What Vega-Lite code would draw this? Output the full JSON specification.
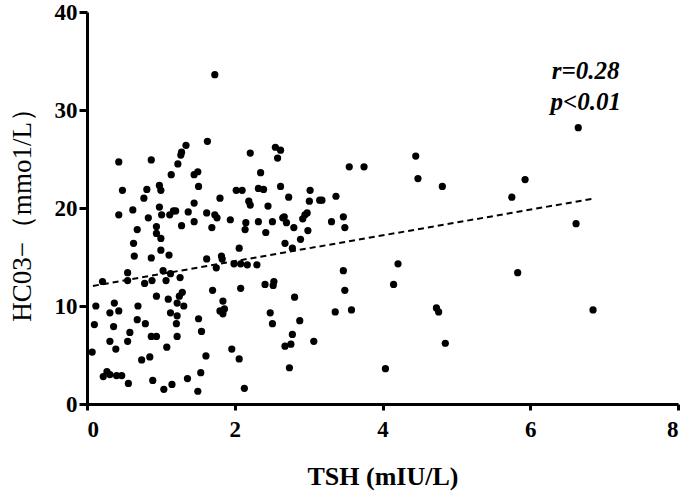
{
  "$schema": "https://vega.github.io/schema/vega-lite/v6.json",
  "autosize": "none",
  "width": 591,
  "height": 392,
  "padding": {"left": 87, "top": 12, "right": 7, "bottom": 94},
  "background": "white",
  "config": {
    "view": {"stroke": null},
    "axis": {
      "grid": false,
      "domainColor": "black",
      "domainWidth": 3,
      "tickColor": "black",
      "tickWidth": 3,
      "labelFont": "Liberation Serif",
      "labelFontWeight": "bold",
      "labelFontSize": 23,
      "labelColor": "black",
      "titleFont": "Liberation Serif",
      "titleColor": "#000000"
    }
  },
  "datasets": {
    "pts": [
      {"tsh":0.07,"hco3":5.3},{"tsh":0.1,"hco3":8.1},{"tsh":0.12,"hco3":10.0},{"tsh":0.21,"hco3":12.5},{"tsh":0.22,"hco3":2.8},{"tsh":0.27,"hco3":3.3},{"tsh":0.31,"hco3":6.4},{"tsh":0.31,"hco3":3.0},{"tsh":0.31,"hco3":9.3},{"tsh":0.36,"hco3":7.9},{"tsh":0.37,"hco3":10.3},{"tsh":0.39,"hco3":5.6},{"tsh":0.4,"hco3":2.9},{"tsh":0.43,"hco3":9.5},{"tsh":0.43,"hco3":24.7},{"tsh":0.43,"hco3":19.3},{"tsh":0.47,"hco3":2.9},{"tsh":0.48,"hco3":21.8},{"tsh":0.55,"hco3":13.4},{"tsh":0.56,"hco3":2.1},{"tsh":0.55,"hco3":6.4},{"tsh":0.58,"hco3":7.3},{"tsh":0.55,"hco3":12.6},{"tsh":0.62,"hco3":19.8},{"tsh":0.63,"hco3":16.4},{"tsh":0.64,"hco3":15.1},{"tsh":0.68,"hco3":8.6},{"tsh":0.68,"hco3":17.8},{"tsh":0.69,"hco3":10.0},{"tsh":0.74,"hco3":4.5},{"tsh":0.77,"hco3":21.0},{"tsh":0.78,"hco3":12.3},{"tsh":0.79,"hco3":8.2},{"tsh":0.81,"hco3":21.9},{"tsh":0.83,"hco3":19.0},{"tsh":0.85,"hco3":4.8},{"tsh":0.87,"hco3":24.9},{"tsh":0.87,"hco3":6.9},{"tsh":0.87,"hco3":14.9},{"tsh":0.88,"hco3":12.6},{"tsh":0.89,"hco3":2.4},{"tsh":0.94,"hco3":11.0},{"tsh":0.94,"hco3":6.9},{"tsh":0.94,"hco3":18.1},{"tsh":0.94,"hco3":17.4},{"tsh":0.98,"hco3":22.3},{"tsh":0.98,"hco3":20.1},{"tsh":1.0,"hco3":21.8},{"tsh":1.0,"hco3":16.9},{"tsh":1.0,"hco3":15.7},{"tsh":1.01,"hco3":19.3},{"tsh":1.03,"hco3":13.6},{"tsh":1.04,"hco3":1.5},{"tsh":1.07,"hco3":12.6},{"tsh":1.08,"hco3":5.8},{"tsh":1.1,"hco3":10.7},{"tsh":1.11,"hco3":15.2},{"tsh":1.13,"hco3":13.3},{"tsh":1.13,"hco3":9.3},{"tsh":1.14,"hco3":23.4},{"tsh":1.15,"hco3":2.0},{"tsh":1.12,"hco3":19.3},{"tsh":1.17,"hco3":19.7},{"tsh":1.2,"hco3":19.7},{"tsh":1.21,"hco3":8.2},{"tsh":1.22,"hco3":9.0},{"tsh":1.22,"hco3":6.9},{"tsh":1.22,"hco3":10.3},{"tsh":1.23,"hco3":24.5},{"tsh":1.25,"hco3":11.0},{"tsh":1.26,"hco3":12.9},{"tsh":1.27,"hco3":25.4},{"tsh":1.28,"hco3":18.2},{"tsh":1.28,"hco3":25.7},{"tsh":1.29,"hco3":11.4},{"tsh":1.31,"hco3":10.0},{"tsh":1.34,"hco3":26.4},{"tsh":1.36,"hco3":2.6},{"tsh":1.37,"hco3":19.6},{"tsh":1.45,"hco3":18.6},{"tsh":1.45,"hco3":20.5},{"tsh":1.45,"hco3":23.4},{"tsh":1.5,"hco3":23.7},{"tsh":1.51,"hco3":22.2},{"tsh":1.51,"hco3":8.7},{"tsh":1.5,"hco3":1.3},{"tsh":1.54,"hco3":3.2},{"tsh":1.55,"hco3":7.4},{"tsh":1.61,"hco3":4.9},{"tsh":1.62,"hco3":14.8},{"tsh":1.62,"hco3":19.5},{"tsh":1.63,"hco3":26.8},{"tsh":1.69,"hco3":18.0},{"tsh":1.7,"hco3":11.6},{"tsh":1.73,"hco3":33.6},{"tsh":1.73,"hco3":19.3},{"tsh":1.75,"hco3":13.9},{"tsh":1.76,"hco3":19.0},{"tsh":1.8,"hco3":21.0},{"tsh":1.8,"hco3":9.5},{"tsh":1.82,"hco3":15.1},{"tsh":1.84,"hco3":10.5},{"tsh":1.84,"hco3":9.2},{"tsh":1.86,"hco3":9.7},{"tsh":1.83,"hco3":14.8},{"tsh":1.94,"hco3":18.8},{"tsh":1.96,"hco3":5.6},{"tsh":1.99,"hco3":14.3},{"tsh":2.02,"hco3":21.8},{"tsh":2.06,"hco3":15.9},{"tsh":2.06,"hco3":4.6},{"tsh":2.08,"hco3":11.8},{"tsh":2.08,"hco3":14.3},{"tsh":2.1,"hco3":21.8},{"tsh":2.13,"hco3":1.6},{"tsh":2.14,"hco3":17.8},{"tsh":2.15,"hco3":18.5},{"tsh":2.17,"hco3":14.2},{"tsh":2.19,"hco3":20.7},{"tsh":2.21,"hco3":20.3},{"tsh":2.21,"hco3":25.6},{"tsh":2.3,"hco3":14.2},{"tsh":2.32,"hco3":18.6},{"tsh":2.32,"hco3":22.0},{"tsh":2.35,"hco3":23.6},{"tsh":2.39,"hco3":21.9},{"tsh":2.41,"hco3":12.2},{"tsh":2.42,"hco3":17.5},{"tsh":2.45,"hco3":20.2},{"tsh":2.48,"hco3":9.3},{"tsh":2.51,"hco3":8.2},{"tsh":2.51,"hco3":18.6},{"tsh":2.52,"hco3":12.1},{"tsh":2.53,"hco3":12.5},{"tsh":2.55,"hco3":26.2},{"tsh":2.58,"hco3":25.1},{"tsh":2.62,"hco3":25.9},{"tsh":2.62,"hco3":22.2},{"tsh":2.65,"hco3":19.0},{"tsh":2.67,"hco3":19.1},{"tsh":2.68,"hco3":16.4},{"tsh":2.68,"hco3":5.9},{"tsh":2.7,"hco3":18.5},{"tsh":2.73,"hco3":21.1},{"tsh":2.74,"hco3":3.7},{"tsh":2.76,"hco3":6.1},{"tsh":2.78,"hco3":7.1},{"tsh":2.78,"hco3":15.9},{"tsh":2.8,"hco3":18.0},{"tsh":2.81,"hco3":10.9},{"tsh":2.88,"hco3":8.5},{"tsh":2.89,"hco3":16.8},{"tsh":2.92,"hco3":18.9},{"tsh":2.95,"hco3":19.3},{"tsh":2.98,"hco3":19.5},{"tsh":2.99,"hco3":17.7},{"tsh":3.01,"hco3":20.7},{"tsh":3.02,"hco3":21.8},{"tsh":3.07,"hco3":6.4},{"tsh":3.15,"hco3":20.8},{"tsh":3.18,"hco3":20.8},{"tsh":3.31,"hco3":18.6},{"tsh":3.36,"hco3":9.4},{"tsh":3.37,"hco3":21.2},{"tsh":3.47,"hco3":13.6},{"tsh":3.47,"hco3":19.1},{"tsh":3.49,"hco3":18.0},{"tsh":3.49,"hco3":11.6},{"tsh":3.55,"hco3":24.2},{"tsh":3.58,"hco3":9.6},{"tsh":3.75,"hco3":24.2},{"tsh":4.04,"hco3":3.6},{"tsh":4.15,"hco3":12.2},{"tsh":4.21,"hco3":14.3},{"tsh":4.45,"hco3":25.3},{"tsh":4.48,"hco3":23.0},{"tsh":4.73,"hco3":9.8},{"tsh":4.76,"hco3":9.4},{"tsh":4.81,"hco3":22.2},{"tsh":4.85,"hco3":6.2},{"tsh":5.75,"hco3":21.1},{"tsh":5.83,"hco3":13.4},{"tsh":5.93,"hco3":22.9},{"tsh":6.62,"hco3":18.4},{"tsh":6.65,"hco3":28.2},{"tsh":6.85,"hco3":9.6}
    ],
    "fit": [{"tsh": 0.08, "hco3": 12.05}, {"tsh": 6.85, "hco3": 20.95}],
    "ann": [{"tsh": 6.75, "hco3": 34.0, "label": "r=0.28"}, {"tsh": 6.75, "hco3": 30.8, "label": "p<0.01"}]
  },
  "layer": [
    {
      "data": {"name": "pts"},
      "mark": {"type": "circle", "size": 52, "color": "black", "opacity": 1},
      "encoding": {
        "x": {
          "field": "tsh", "type": "quantitative",
          "scale": {"domain": [0, 8], "nice": false, "zero": false},
          "axis": {"values": [0, 2, 4, 6, 8], "format": "d", "tickSize": 6, "title": "TSH (mIU/L)", "titleFontSize": 26, "titleFontWeight": "bold", "titleColor": "#000000", "titlePadding": 22, "labelPadding": 8}
        },
        "y": {
          "field": "hco3", "type": "quantitative",
          "scale": {"domain": [0, 40], "nice": false},
          "axis": {"values": [0, 10, 20, 30, 40], "format": "d", "tickSize": 8, "title": "HC03−（mmo1/L）", "titleFontSize": 27, "titleFontWeight": "normal", "titleColor": "#000000", "titlePadding": 18, "labelPadding": 2}
        }
      }
    },
    {
      "data": {"name": "fit"},
      "mark": {"type": "line", "color": "black", "strokeWidth": 2, "strokeDash": [6, 4]},
      "encoding": {
        "x": {"field": "tsh", "type": "quantitative"},
        "y": {"field": "hco3", "type": "quantitative"}
      }
    },
    {
      "data": {"name": "ann"},
      "mark": {"type": "text", "font": "Liberation Serif", "fontWeight": "bold", "fontStyle": "italic", "fontSize": 25, "color": "black", "align": "center", "baseline": "middle"},
      "encoding": {
        "x": {"field": "tsh", "type": "quantitative"},
        "y": {"field": "hco3", "type": "quantitative"},
        "text": {"field": "label", "type": "nominal"}
      }
    }
  ]
}
